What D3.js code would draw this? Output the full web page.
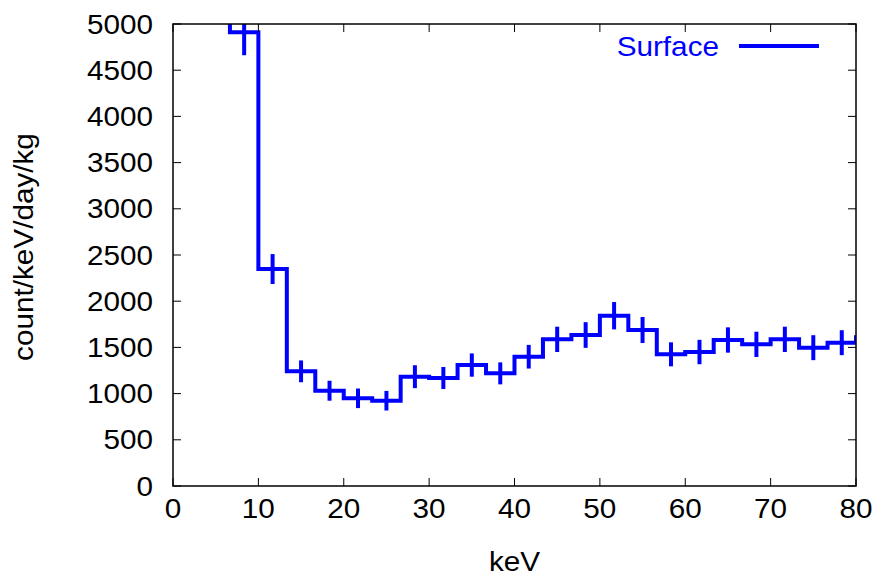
<!DOCTYPE html>
<html>
<head>
<meta charset="utf-8">
<script src="https://cdn.jsdelivr.net/npm/d3@7"></script>
<style>
  html, body { margin: 0; padding: 0; background: #fff; }
  text { font-family: "Liberation Sans", Arial, Helvetica, sans-serif; }
</style>
</head>
<body>
<svg id="chart" width="877" height="581"></svg>
<script>
// Histogram bin lower edges (keV), bin width 10/3 keV
const binStarts = [3.333, 6.667, 10, 13.333, 16.667, 20, 23.333, 26.667, 30, 33.333, 36.667,
  40, 43.333, 46.667, 50, 53.333, 56.667, 60, 63.333, 66.667, 70, 73.333, 76.667, 80];
const binWidth = 10 / 3;
const counts = [6500, 4912, 2348, 1241, 1031, 949, 923, 1183, 1169, 1309, 1219,
  1399, 1587, 1634, 1843, 1688, 1425, 1450, 1580, 1533, 1587, 1497, 1551, 1609];
const errors = [300, 250, 162, 118, 108, 106, 106, 124, 119, 126, 119,
  128, 137, 139, 148, 141, 130, 132, 137, 137, 137, 135, 135, 135];
const xTicks = [0, 10, 20, 30, 40, 50, 60, 70, 80];
const yTicks = [0, 500, 1000, 1500, 2000, 2500, 3000, 3500, 4000, 4500, 5000];
const seriesName = "Surface";

const svg = d3.select("#chart");
const L = 173, R = 856, T = 24, B = 486;
const x = d3.scaleLinear().domain([0, 80]).range([L, R]);
const y = d3.scaleLinear().domain([0, 5000]).range([B, T]);
const blue = "#0000ff";
const fs = 27;
const sx = 1.1;

function label(parent, px, py, txt, anchor, rot, color) {
  return parent.append("text")
    .attr("transform", "translate(" + px + "," + py + ")" + (rot ? " rotate(" + rot + ")" : "") + " scale(" + sx + ",1)")
    .attr("text-anchor", anchor).attr("font-size", fs).attr("fill", color || "#000").text(txt);
}

svg.append("defs").append("clipPath").attr("id", "clip")
  .append("rect").attr("x", L).attr("y", T).attr("width", R - L).attr("height", B - T);

// Step path
const stepPts = [];
binStarts.forEach((s, i) => {
  stepPts.push([s, counts[i]]);
  stepPts.push([s + binWidth, counts[i]]);
});
const line = d3.line().x(d => x(d[0])).y(d => y(d[1]));
const g = svg.append("g").attr("clip-path", "url(#clip)");
g.append("path").attr("d", line(stepPts))
  .attr("fill", "none").attr("stroke", blue).attr("stroke-width", 4)
  .attr("stroke-linejoin", "miter");
// Error bars
g.selectAll("line.err").data(binStarts).enter().append("line")
  .attr("class", "err")
  .attr("x1", (d) => x(d + binWidth / 2)).attr("x2", (d) => x(d + binWidth / 2))
  .attr("y1", (d, i) => y(counts[i] - errors[i])).attr("y2", (d, i) => y(counts[i] + errors[i]))
  .attr("stroke", blue).attr("stroke-width", 4);

// Axes (inward ticks, mirrored)
const tickLen = 8;
const axisG = svg.append("g");
xTicks.forEach(t => {
  axisG.append("line").attr("x1", x(t)).attr("x2", x(t)).attr("y1", B).attr("y2", B - tickLen)
    .attr("stroke", "#000").attr("stroke-width", 1);
  axisG.append("line").attr("x1", x(t)).attr("x2", x(t)).attr("y1", T).attr("y2", T + tickLen)
    .attr("stroke", "#000").attr("stroke-width", 1);
  label(axisG, x(t), B + 32, t, "middle");
});
yTicks.forEach(t => {
  axisG.append("line").attr("x1", L).attr("x2", L + tickLen).attr("y1", y(t)).attr("y2", y(t))
    .attr("stroke", "#000").attr("stroke-width", 1);
  axisG.append("line").attr("x1", R).attr("x2", R - tickLen).attr("y1", y(t)).attr("y2", y(t))
    .attr("stroke", "#000").attr("stroke-width", 1);
  label(axisG, 153, y(t) + 9.5, t, "end");
});
axisG.append("rect").attr("x", L).attr("y", T).attr("width", R - L).attr("height", B - T)
  .attr("fill", "none").attr("stroke", "#000").attr("stroke-width", 1.5);

// Axis labels
label(svg, (L + R) / 2, 571, "keV", "middle");
label(svg, 33, 247, "count/keV/day/kg", "middle", -90);

// Legend
label(svg, 719, 56, seriesName, "end", 0, blue);
svg.append("line").attr("x1", 739).attr("x2", 819).attr("y1", 46).attr("y2", 46)
  .attr("stroke", blue).attr("stroke-width", 4);
</script>
</body>
</html>
